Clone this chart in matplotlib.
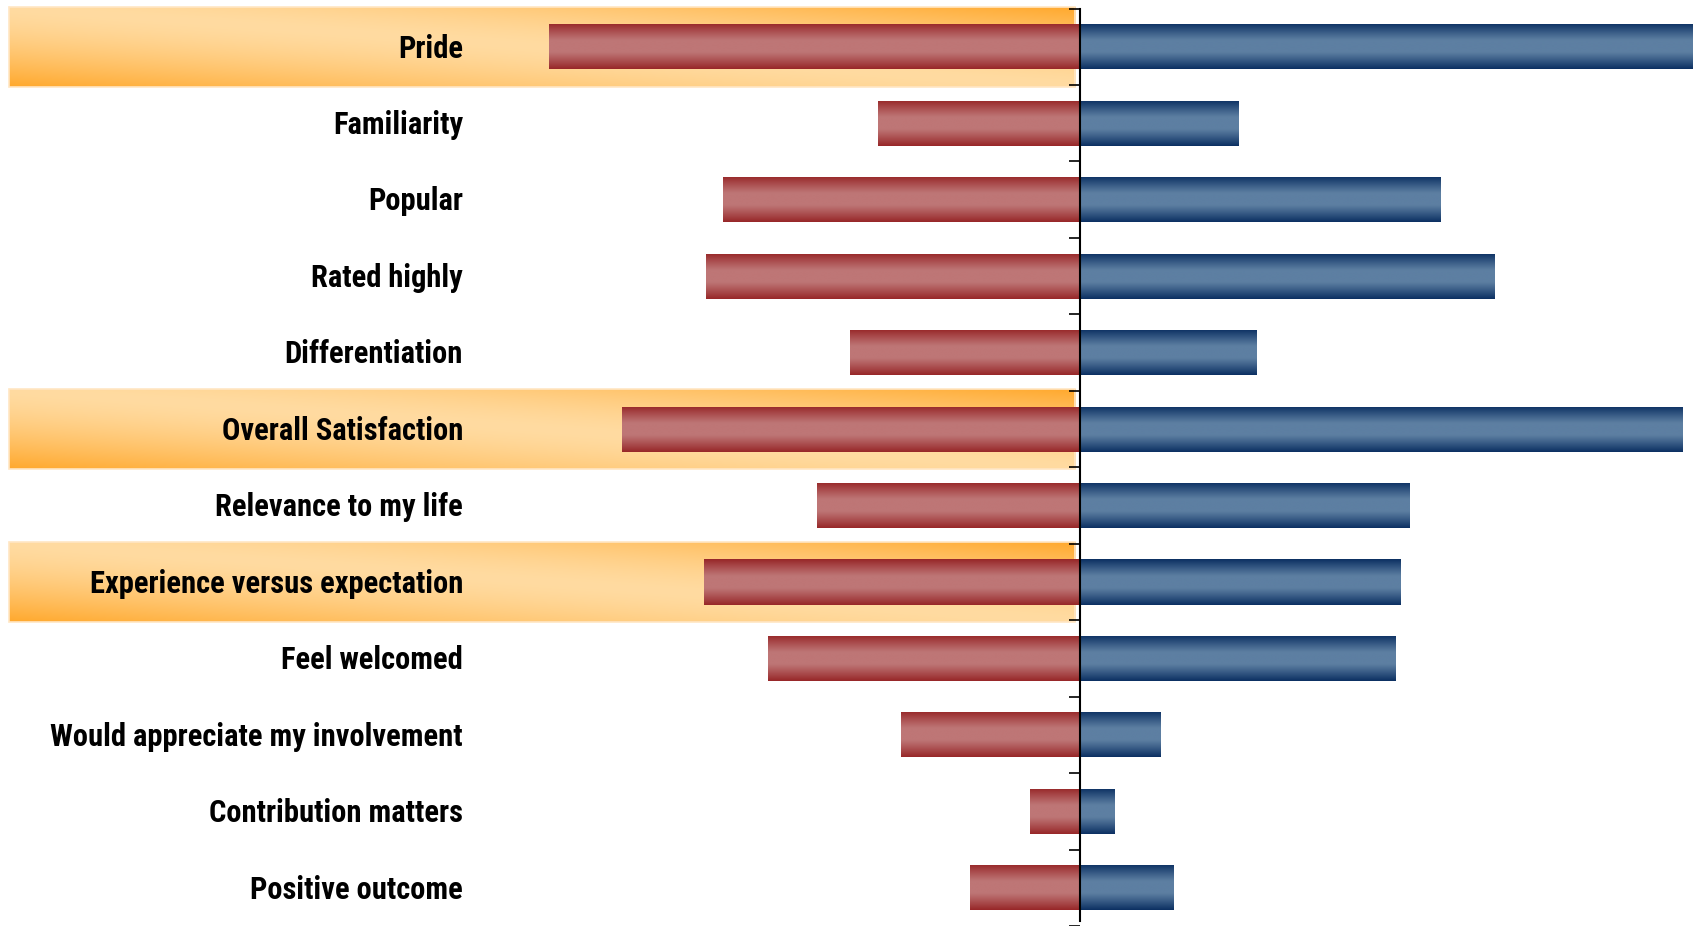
import numpy as np
import matplotlib
matplotlib.use("Agg")
import matplotlib.pyplot as plt
from matplotlib import font_manager

categories = ["Pride", "Familiarity", "Popular", "Rated highly", "Differentiation",
              "Overall Satisfaction", "Relevance to my life", "Experience versus expectation",
              "Feel welcomed", "Would appreciate my involvement", "Contribution matters",
              "Positive outcome"]
negative = [-53.1, -20.2, -35.7, -37.4, -23.0, -45.8, -26.3, -37.6, -31.2, -17.9, -5.0, -11.0]
positive = [62.0, 15.9, 36.1, 41.5, 17.7, 60.3, 33.0, 32.1, 31.6, 8.1, 3.5, 9.4]
highlighted = ["Pride", "Overall Satisfaction", "Experience versus expectation"]

# pick a narrow bold font if one is there
names = {f.name for f in font_manager.fontManager.ttflist}
label_font = "Liberation Sans"
for cand in ["Liberation Sans Narrow", "Arial Narrow", "Roboto Condensed", "Open Sans Condensed"]:
    if cand in names:
        label_font = cand
        break


def hex_rgb(h):
    return np.array([int(h[i:i + 2], 16) for i in (1, 3, 5)]) / 255.0


def bar_gradient(edge, mid, n=200):
    v = np.linspace(0, 1, n)
    t = np.abs(2 * v - 1)
    w = np.clip((t - 0.25) / 0.75, 0, 1) ** 1.1
    col = hex_rgb(mid)[None, :] * (1 - w[:, None]) + hex_rgb(edge)[None, :] * w[:, None]
    return col[:, None, :]


def band_gradient(orange, light, nx=400, ny=60):
    u = np.linspace(0, 1, nx)[None, :]
    v = np.linspace(1, 0, ny)[:, None]
    t = (u + v) / 2
    w = np.abs(2 * t - 1) ** 1.5
    return hex_rgb(light)[None, None, :] * (1 - w[..., None]) + hex_rgb(orange)[None, None, :] * w[..., None]


fig = plt.figure(figsize=(16.93, 9.26), dpi=100)
ax = fig.add_axes([0, 0, 1, 1])
y = np.arange(len(categories))

# highlight bands behind the left half
band = band_gradient("#FFA92E", "#FFDBA1")
for i, cat in enumerate(categories):
    if cat in highlighted:
        ax.imshow(band, extent=(-107.15, -0.5, i + 0.52, i - 0.52), aspect="auto",
                  interpolation="bilinear", zorder=1)
        ax.add_patch(plt.Rectangle((-107.15, i - 0.52), 106.65, 1.04, fill=False,
                                   ec="#FFE6C4", lw=1.2, zorder=1.1))

neg_bars = ax.barh(y, negative, height=0.59, color="#B86A6A", lw=0, zorder=2)
pos_bars = ax.barh(y, positive, height=0.59, color="#58799C", lw=0, zorder=2)

red_grad = bar_gradient("#972628", "#BE7676")
blue_grad = bar_gradient("#0B2F62", "#5D7FA2")
for bars, grad in [(neg_bars, red_grad), (pos_bars, blue_grad)]:
    for b in bars:
        x0, w = b.get_x(), b.get_width()
        y0, h = b.get_y(), b.get_height()
        im = ax.imshow(grad, extent=(x0, x0 + w, y0 + h, y0), aspect="auto",
                       interpolation="bilinear", zorder=2.1)
        im.set_clip_path(b)

for i, cat in enumerate(categories):
    ax.text(-61.7, i + 0.141, cat, ha="right", va="baseline", fontsize=22,
            fontweight="bold", family=[label_font, "DejaVu Sans"], color="#000000", zorder=3)

ax.set_xlim(-108, 61.3)
ax.set_ylim(11.437, -0.612)

for s in ["top", "right", "bottom"]:
    ax.spines[s].set_visible(False)
ax.spines["left"].set_position(("data", 0))
ax.spines["left"].set_bounds(-0.5, 11.437)
ax.spines["left"].set_linewidth(1.5)
ax.spines["left"].set_zorder(4)
ax.set_yticks(np.arange(-0.5, len(categories), 1.0))
ax.set_yticklabels([])
ax.tick_params(axis="y", direction="out", length=8, width=1.2, color="black")
ax.set_xticks([])
ax.patch.set_alpha(0)

fig.savefig("out.png", dpi=100)
